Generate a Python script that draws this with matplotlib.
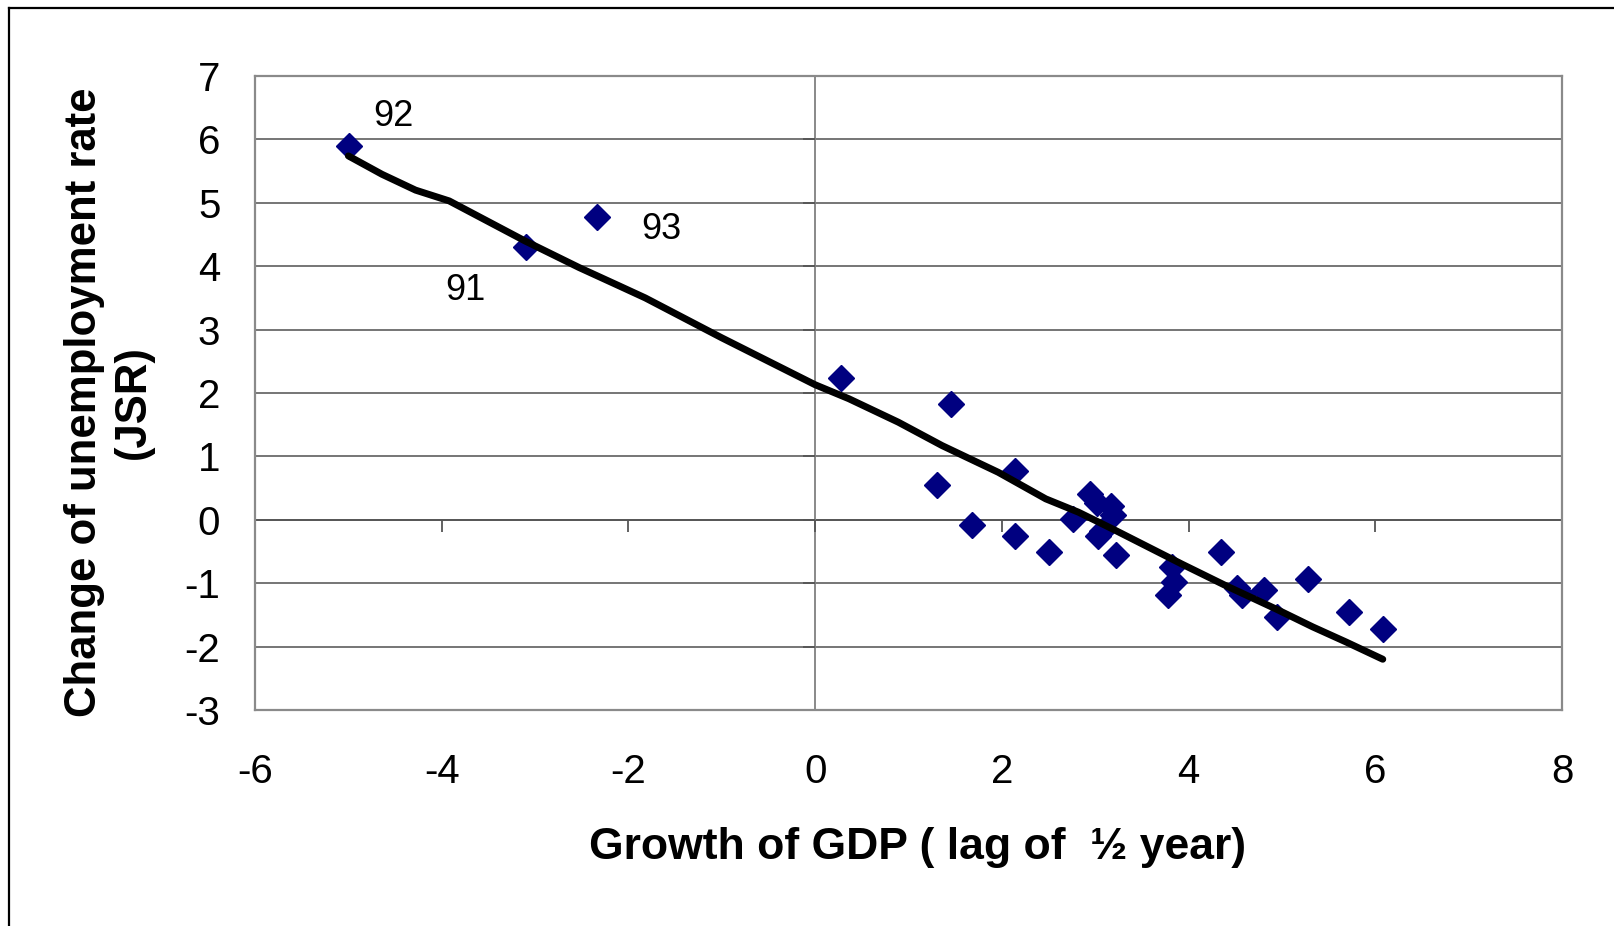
import numpy as np
import matplotlib
matplotlib.use("Agg")
from matplotlib import pyplot as plt
from matplotlib.lines import Line2D

plt.rcParams['font.family'] = ['Liberation Sans', 'DejaVu Sans']
plt.rcParams['axes.unicode_minus'] = False

# observations: GDP growth (lag 1/2 year) vs change of unemployment rate
gdp_growth = [-4.99, -3.10, -2.34, 0.28, 1.46, 1.31, 1.68, 2.14, 2.14, 2.50,
              2.76, 2.94, 3.02, 3.17, 3.19, 3.03, 3.07, 3.22, 3.82, 3.84,
              3.78, 4.35, 4.52, 4.57, 4.81, 4.95, 5.28, 5.72, 6.08]
unemp_change = [5.90, 4.30, 4.78, 2.23, 1.82, 0.55, -0.09, 0.77, -0.25, -0.51,
                0.01, 0.40, 0.27, 0.21, 0.07, -0.25, -0.17, -0.56, -0.74, -0.98,
                -1.19, -0.51, -1.08, -1.19, -1.10, -1.53, -0.94, -1.46, -1.72]

# smoothed trend line
trend_x = [-5.0, -4.64, -4.28, -3.92, -3.11, -2.53, -2.10, -1.82, -1.00, 0.0,
           0.36, 0.89, 1.36, 1.96, 2.47, 2.82, 3.22, 3.93, 4.40, 4.94, 5.33,
           5.69, 6.08]
trend_y = [5.74, 5.45, 5.20, 5.03, 4.40, 3.98, 3.69, 3.50, 2.87, 2.13,
           1.91, 1.54, 1.17, 0.75, 0.33, 0.12, -0.17, -0.70, -1.04, -1.41,
           -1.69, -1.93, -2.20]

# year labels for the first three points
year_labels = ['92', '91', '93']
label_offsets = [(44, 29), (-60, -43), (65, -13)]  # pixels

x_ticks = [-6, -4, -2, 0, 2, 4, 6, 8]
y_ticks = [-3, -2, -1, 0, 1, 2, 3, 4, 5, 6, 7]

fig = plt.figure(figsize=(16.15, 9.26), dpi=100)
ax = fig.add_axes([0.1579, 0.2333, 0.8093, 0.6846])

ax.set_xlim(-6, 8)
ax.set_ylim(-3, 7)
ax.set_xticks(x_ticks)
ax.set_yticks(y_ticks)
ax.tick_params(axis='both', length=0, labelsize=29)
ax.tick_params(axis='x', pad=31)
ax.tick_params(axis='y', pad=25)
ax.yaxis.grid(True, color='#505050', lw=1.1)
ax.set_axisbelow(True)
for sp in ax.spines.values():
    sp.set_color('#8a8a8a')
    sp.set_linewidth(1.6)

# axes crossing at origin, with their ticks
ax.axhline(0, color='#555555', lw=1.3, zorder=1)
ax.axvline(0, color='#808080', lw=1.3, zorder=1)
ax.plot(x_ticks, np.zeros(len(x_ticks)), ls='none', marker=3, ms=8.6,
        mew=1.3, color='#555555', zorder=1, clip_on=False)
ax.plot(np.zeros(len(y_ticks)), y_ticks, ls='none', marker=0, ms=8.6,
        mew=1.3, color='#555555', zorder=1, clip_on=False)

ax.plot(gdp_growth, unemp_change, ls='none', marker='D', ms=13.5,
        color='#000080', mec='#000080', zorder=3)
ax.plot(trend_x, trend_y, color='black', lw=5, zorder=4,
        solid_capstyle='round', solid_joinstyle='round')

for lab, xv, yv, off in zip(year_labels, gdp_growth, unemp_change, label_offsets):
    ax.annotate(lab, (xv, yv), xytext=off, textcoords='offset pixels',
                ha='center', va='center', fontsize=26)

fig.text(0.568, 0.085, 'Growth of GDP ( lag of  \u00bd year)', fontsize=32,
         fontweight='bold', ha='center', va='center')
fig.text(0.0672, 0.566, 'Change of unemployment rate\n(JSR)', fontsize=31.5,
         fontweight='bold', ha='center', va='center', rotation=90,
         multialignment='center', linespacing=1.25)

# outer frame (left and top edges visible)
fig.add_artist(Line2D([0.0053, 0.0053], [0, 0.9919], color='black', lw=1.6,
                      transform=fig.transFigure))
fig.add_artist(Line2D([0.0053, 1.0], [0.9919, 0.9919], color='black', lw=1.6,
                      transform=fig.transFigure))

fig.savefig('out.png', dpi=100)
